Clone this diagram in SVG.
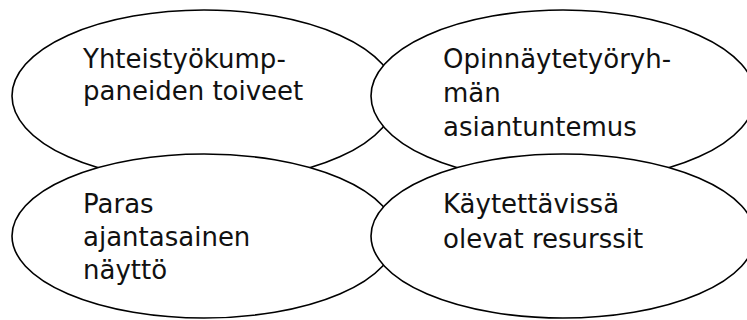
<svg xmlns="http://www.w3.org/2000/svg" width="747" height="320" viewBox="0 0 747 320">
<style>
.shape{fill:#fff;stroke:#000;stroke-width:1.6}
.lbl{font-family:"DejaVu Sans",Verdana,sans-serif;font-size:26px;fill:#111}
</style>
<rect width="747" height="320" fill="#fff"/>
<g id="connectors"/>
<g id="node-yhteistyo">
<ellipse class="shape" cx="204" cy="96" rx="192" ry="86"/>
<text class="lbl" x="83"><tspan x="83" y="68">Yhteistyökump-</tspan><tspan x="83" y="100">paneiden toiveet</tspan></text>
</g>
<g id="node-opinnaytetyo">
<ellipse class="shape" cx="563" cy="96" rx="192" ry="86"/>
<text class="lbl" x="443"><tspan x="443" y="68">Opinnäytetyöryh-</tspan><tspan x="443" y="102">män</tspan><tspan x="443" y="136">asiantuntemus</tspan></text>
</g>
<g id="node-paras">
<ellipse class="shape" cx="204" cy="236" rx="192" ry="82"/>
<text class="lbl" x="83"><tspan x="83" y="213">Paras</tspan><tspan x="83" y="246">ajantasainen</tspan><tspan x="83" y="279">näyttö</tspan></text>
</g>
<g id="node-resurssit">
<ellipse class="shape" cx="563" cy="236" rx="192" ry="82"/>
<text class="lbl" x="443"><tspan x="443" y="213">Käytettävissä</tspan><tspan x="443" y="248">olevat resurssit</tspan></text>
</g>
</svg>
